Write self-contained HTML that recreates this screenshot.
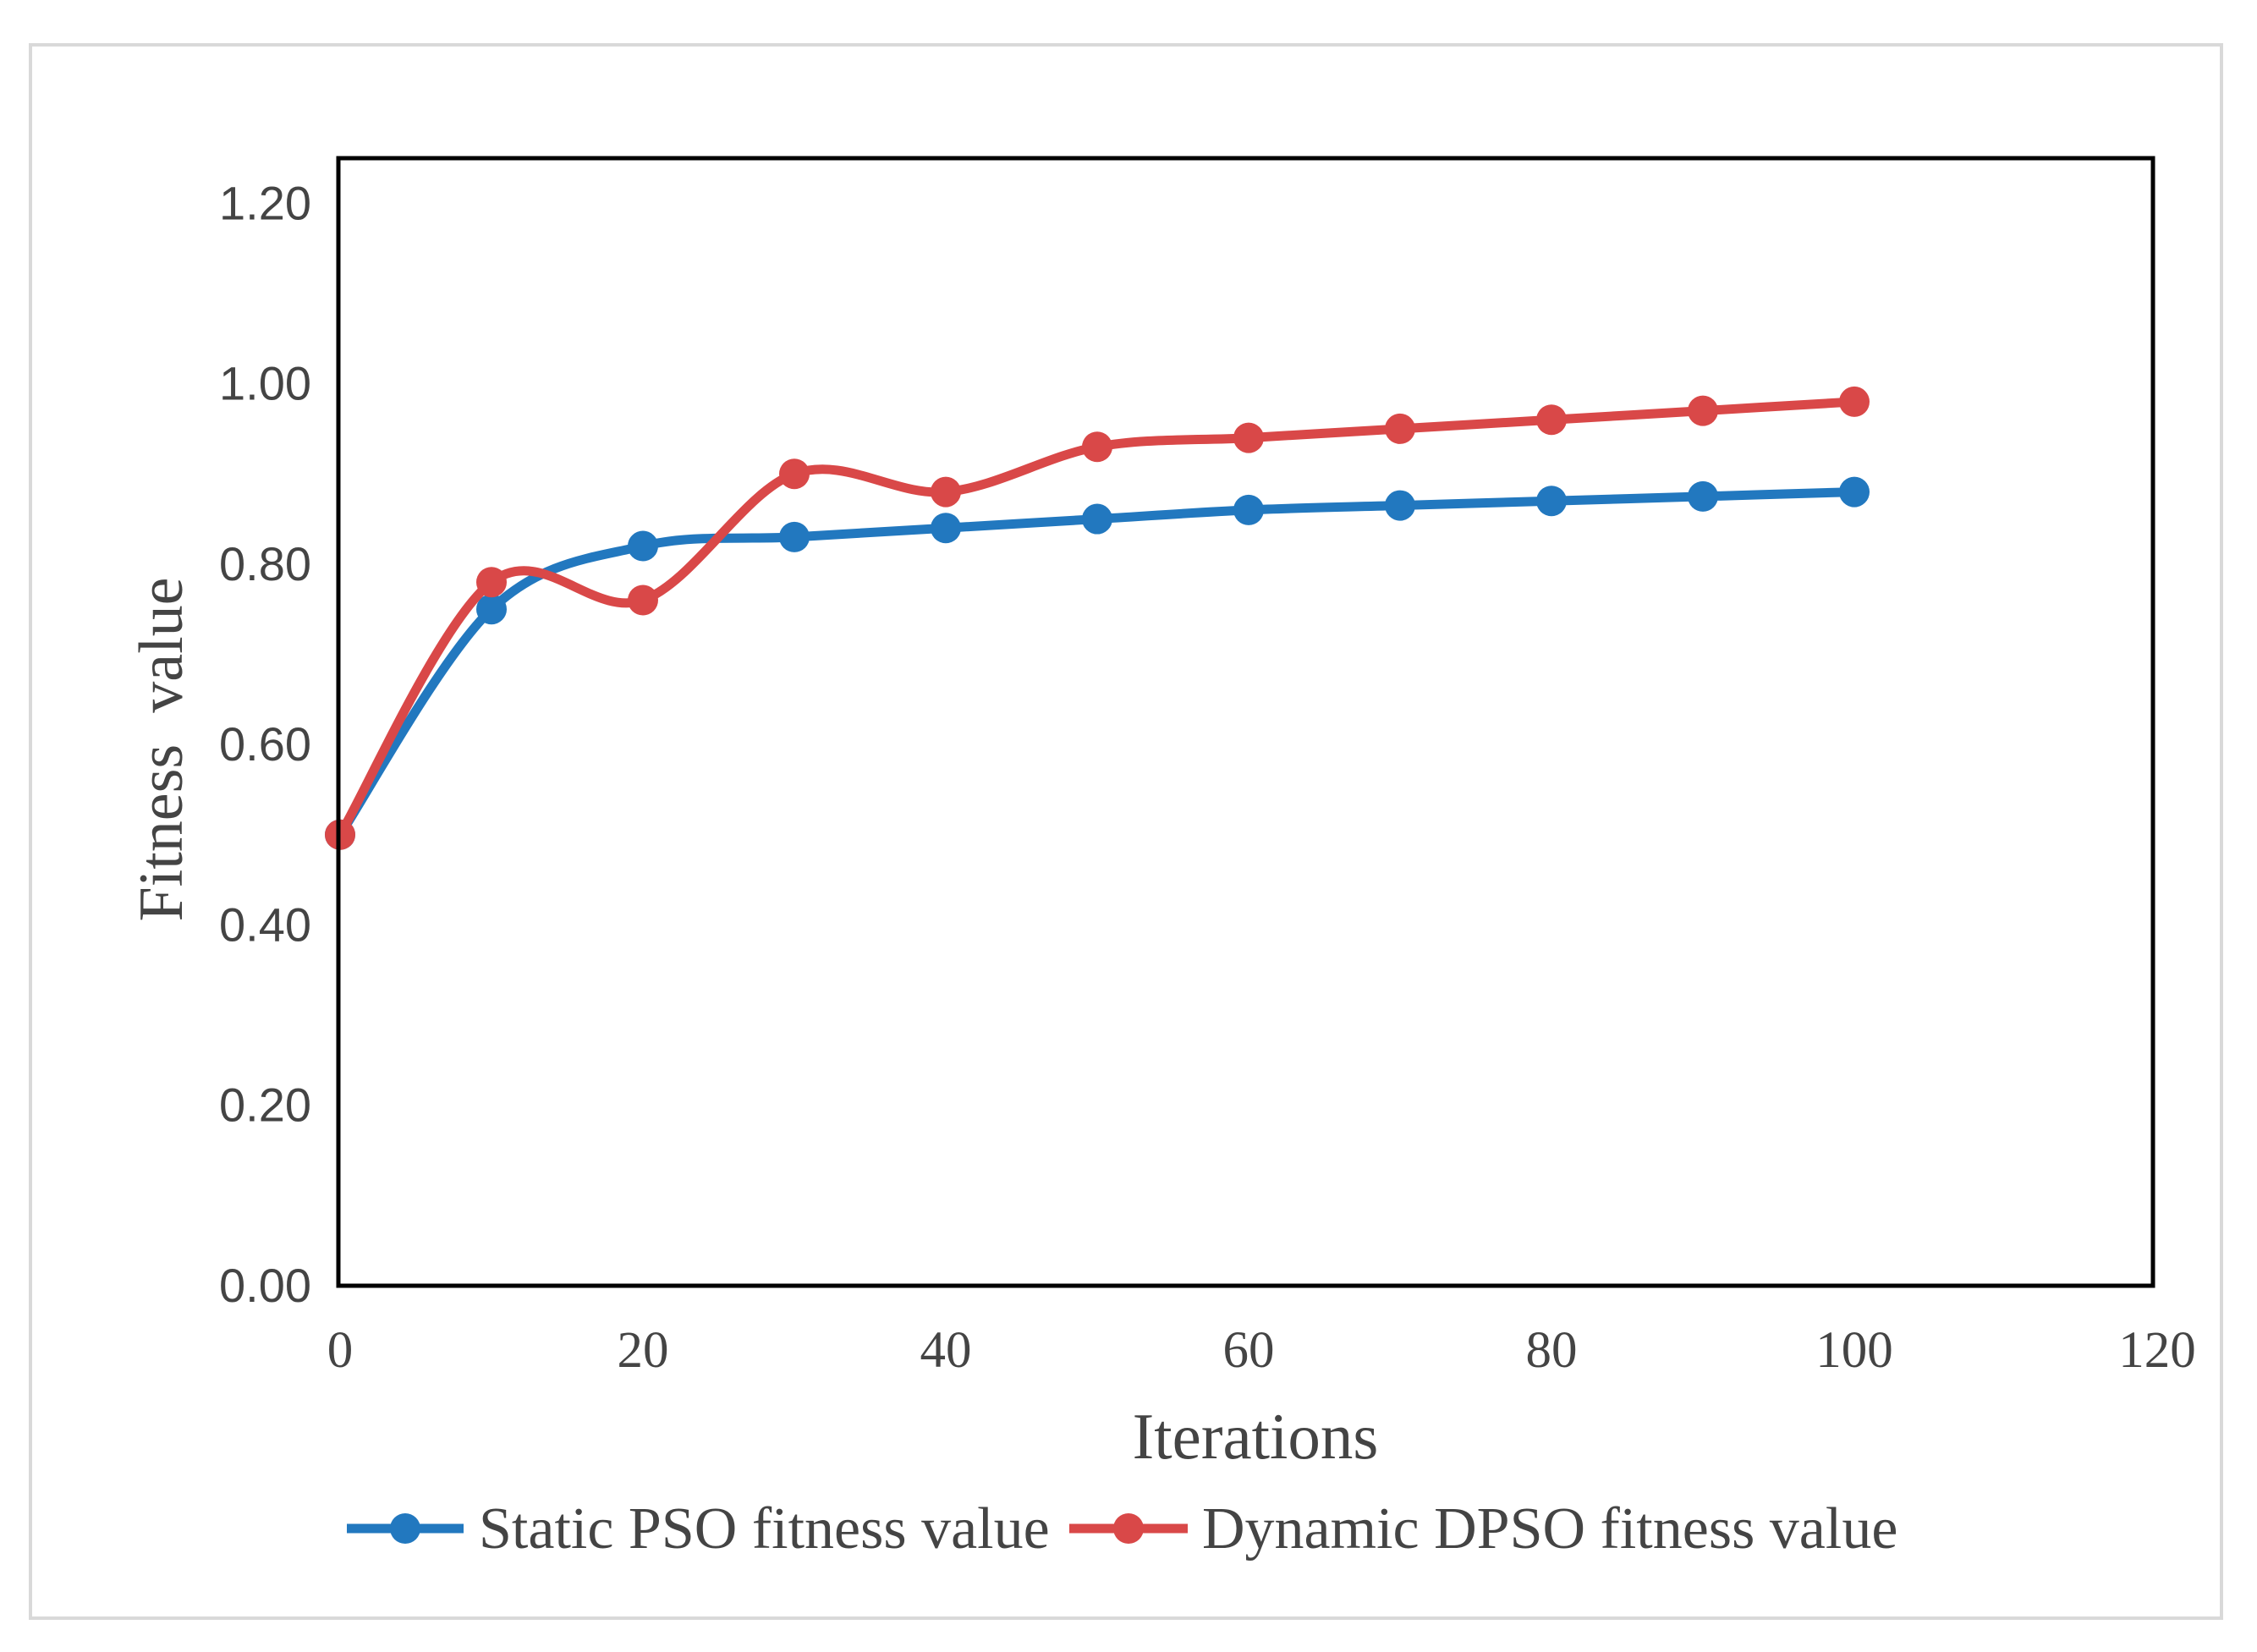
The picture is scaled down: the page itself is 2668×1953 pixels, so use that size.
<!DOCTYPE html>
<html><head><meta charset="utf-8"><style>
html,body{margin:0;padding:0;background:#fff;}
svg{display:block;}
</style></head><body>
<svg id="chart" width="2668" height="1953" viewBox="0 0 2668 1953" xmlns="http://www.w3.org/2000/svg">
<rect x="36" y="53" width="2590" height="1860" fill="#fff" stroke="#d9d9d9" stroke-width="4"/>
<g id="series"></g>
<rect x="400" y="187" width="2145" height="1333" fill="none" stroke="#000" stroke-width="5"/>
<g id="yticks" font-family="Liberation Sans, sans-serif" font-size="56" fill="#444" text-anchor="end"></g>
<g id="xticks" font-family="Liberation Serif, serif" font-size="61" fill="#444" text-anchor="middle"></g>
<text x="1484" y="1724" font-family="Liberation Serif, serif" font-size="77" fill="#444" text-anchor="middle">Iterations</text>
<text transform="translate(215,886) rotate(-90)" font-family="Liberation Serif, serif" font-size="74" fill="#444" text-anchor="middle" xml:space="preserve">Fitness  value</text>
<g font-family="Liberation Serif, serif" font-size="70" fill="#444">
<g>
<line x1="410" y1="1807" x2="548" y2="1807" stroke="#2278bf" stroke-width="11"/>
<circle cx="479" cy="1807" r="18" fill="#2278bf"/>
<text x="566" y="1830">Static PSO fitness value</text>
</g>
<g>
<line x1="1264" y1="1807" x2="1404" y2="1807" stroke="#d94848" stroke-width="11"/>
<circle cx="1334" cy="1807" r="18" fill="#d94848"/>
<text x="1421" y="1830">Dynamic DPSO fitness value</text>
</g>
</g>
</svg>
<script>
const iterations=[0,10,20,30,40,50,60,70,80,90,100];
const staticPSO=[0.5,0.75,0.82,0.83,0.84,0.85,0.86,0.865,0.87,0.875,0.88];
const dynamicDPSO=[0.5,0.78,0.76,0.9,0.88,0.93,0.94,0.95,0.96,0.97,0.98];
const yTickLabels=["0.00","0.20","0.40","0.60","0.80","1.00","1.20"];
const xTickLabels=["0","20","40","60","80","100","120"];
const X0=402,X1=2550,Y0=1520,Y1=187,XMAX=120,YMAX=1.25;
const NS="http://www.w3.org/2000/svg";
function xs(v){return X0+(v/XMAX)*(X1-X0);}
function ys(v){return Y0-(v/YMAX)*(Y0-Y1);}
const yt=document.getElementById('yticks');
yTickLabels.forEach(l=>{const t=document.createElementNS(NS,'text');t.setAttribute('x',368);t.setAttribute('y',ys(+l)+19);t.textContent=l;


yt.appendChild(t);});
const xt=document.getElementById('xticks');
xTickLabels.forEach(l=>{const t=document.createElementNS(NS,'text');t.setAttribute('x',xs(+l));t.setAttribute('y',1616);t.textContent=l;


xt.appendChild(t);});
function smooth(pts){let d=`M${pts[0][0]},${pts[0][1]}`;for(let i=0;i<pts.length-1;i++){const p0=pts[i-1]||pts[i],p1=pts[i],p2=pts[i+1],p3=pts[i+2]||p2;const k=1/6;
d+=` C${p1[0]+(p2[0]-p0[0])*k},${p1[1]+(p2[1]-p0[1])*k} ${p2[0]-(p3[0]-p1[0])*k},${p2[1]-(p3[1]-p1[1])*k} ${p2[0]},${p2[1]}`;}return d;}
const sg=document.getElementById('series');
function draw(vals,color,name){const g=document.createElementNS(NS,'g');


const pts=vals.map((v,i)=>[xs(iterations[i]),ys(v)]);
const p=document.createElementNS(NS,'path');p.setAttribute('d',smooth(pts));p.setAttribute('fill','none');p.setAttribute('stroke',color);p.setAttribute('stroke-width',11);p.setAttribute('stroke-linecap','round');


g.appendChild(p);
pts.forEach(q=>{const c=document.createElementNS(NS,'circle');c.setAttribute('cx',q[0]);c.setAttribute('cy',q[1]);c.setAttribute('r',18);c.setAttribute('fill',color);


g.appendChild(c);});
sg.appendChild(g);}
draw(staticPSO,'#2278bf','static-pso-series');
draw(dynamicDPSO,'#d94848','dynamic-dpso-series');
</script>
</body></html>
